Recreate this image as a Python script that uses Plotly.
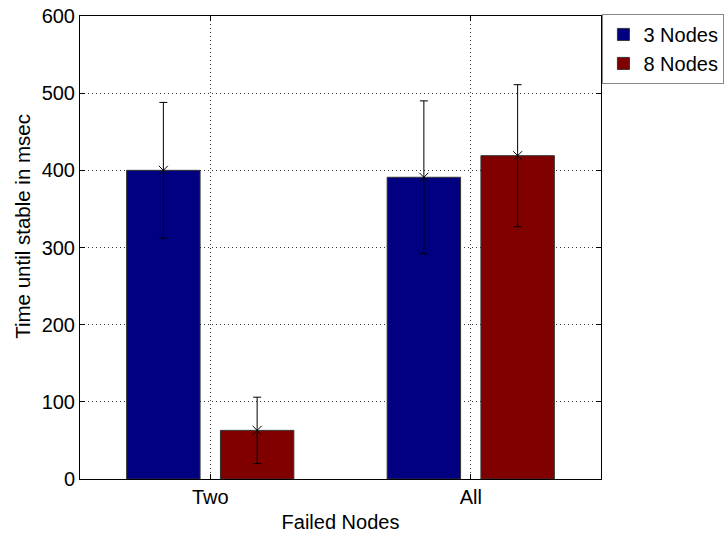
import plotly.graph_objects as go

# Data
groups = ["Two", "All"]
group_pos = [1, 2]
series_names = ["3 Nodes", "8 Nodes"]
series_colors = ["#000080", "#800000"]
means = [
    [400, 391],   # 3 Nodes
    [63, 419],    # 8 Nodes
]
errors = [
    [88, 99],
    [43, 92],
]

BARGAP = 0.28
BARGROUPGAP = 0.217
SLOT = (1 - BARGAP) / len(series_names)

FONT = "Liberation Sans, Arial, Helvetica, sans-serif"

fig = go.Figure()

for i, name in enumerate(series_names):
    fig.add_trace(go.Bar(
        x=group_pos, y=means[i], name=name,
        marker=dict(color=series_colors[i], line=dict(color="#333333", width=1)),
    ))

# error bars with an 'x' marker at each mean
for i, name in enumerate(series_names):
    xs = [g + (i - (len(series_names) - 1) / 2) * SLOT for g in group_pos]
    fig.add_trace(go.Scatter(
        x=xs, y=means[i], mode="markers", showlegend=False,
        marker=dict(symbol="x-thin", size=9, line=dict(color="black", width=1)),
        error_y=dict(type="data", array=errors[i], color="black",
                     thickness=1, width=4),
        hoverinfo="skip",
    ))

axis_common = dict(
    showline=True, linecolor="black", linewidth=1, mirror="ticks",
    ticks="inside", ticklen=5, tickcolor="black",
    showgrid=True, gridcolor="#333333", gridwidth=1, griddash="1px,3px",
    zeroline=False, automargin=False,
    tickfont=dict(family=FONT, size=20, color="black"),
)

fig.update_layout(
    width=728, height=535,
    margin=dict(l=80, r=127, t=16, b=56, autoexpand=False),
    paper_bgcolor="white", plot_bgcolor="white",
    barmode="group", bargap=BARGAP, bargroupgap=BARGROUPGAP,
    font=dict(family=FONT, size=20, color="black"),
    xaxis=dict(
        range=[0.5, 2.5], tickvals=group_pos, ticktext=groups,
        title=dict(text="Failed Nodes", font=dict(family=FONT, size=20), standoff=7),
        **axis_common,
    ),
    yaxis=dict(
        range=[0, 600], dtick=100,
        **axis_common,
    ),
    legend=dict(
        xref="container", yref="container",
        x=0.8275, y=0.974, xanchor="left", yanchor="top",
        bordercolor="#888888", borderwidth=1, bgcolor="white",
        font=dict(family=FONT, size=20, color="black"),
        itemwidth=30,
    ),
    annotations=[dict(
        text="Time until stable in msec", textangle=-90,
        xref="paper", yref="paper", x=-0.111, y=0.545,
        xanchor="center", yanchor="middle", showarrow=False,
        font=dict(family=FONT, size=20.5, color="black"),
    )],
)

fig.write_html("out.html")
